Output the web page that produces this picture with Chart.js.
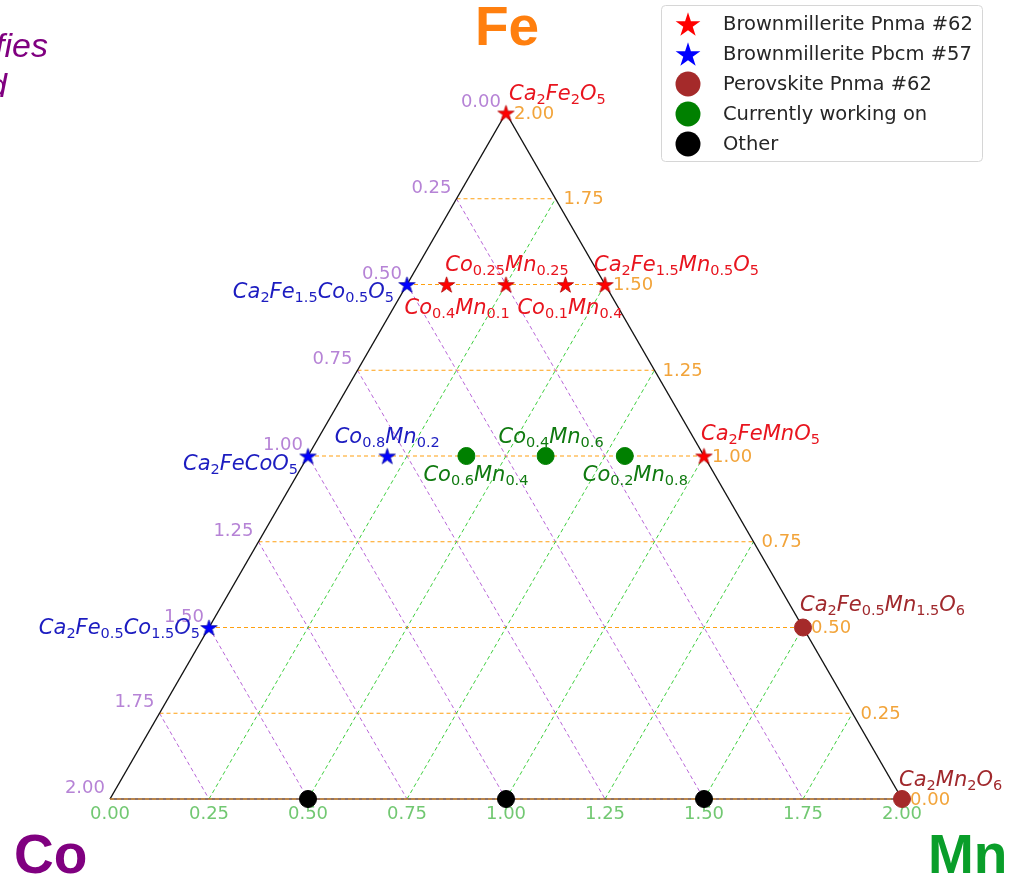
<!DOCTYPE html>
<html>
<head>
<meta charset="utf-8">
<script src="https://cdn.jsdelivr.net/npm/chart.js@4.4.1/dist/chart.umd.min.js"></script>
<style>
  html, body { margin: 0; padding: 0; background: #ffffff; overflow: hidden; }
  canvas { display: block; }
</style>
</head>
<body>
<canvas id="chart" width="1009" height="875"></canvas>
<script>
// Ternary map of Ca2(Fe,Co,Mn)2O5/O6 compositions; the B-site total is 2.
// Each point is given by its Fe and Mn content, Co = 2 - Fe - Mn.

const tickValues = [0, 0.25, 0.5, 0.75, 1, 1.25, 1.5, 1.75, 2];
const tickLabels = ['0.00', '0.25', '0.50', '0.75', '1.00', '1.25', '1.50', '1.75', '2.00'];

const seriesNames = [
  'Brownmillerite Pnma #62',
  'Brownmillerite Pbcm #57',
  'Perovskite Pnma #62',
  'Currently working on',
  'Other'
];

// Brownmillerite Pnma #62
const pnmaFe = [2, 1.5, 1.5, 1.5, 1.5, 1];
const pnmaMn = [0, 0.1, 0.25, 0.4, 0.5, 1];
const pnmaLabels = ['Ca2Fe2O5', 'Co0.4Mn0.1', 'Co0.25Mn0.25', 'Co0.1Mn0.4', 'Ca2Fe1.5Mn0.5O5', 'Ca2FeMnO5'];

// Brownmillerite Pbcm #57
const pbcmFe = [1.5, 1, 1, 0.5];
const pbcmMn = [0, 0, 0.2, 0];
const pbcmLabels = ['Ca2Fe1.5Co0.5O5', 'Ca2FeCoO5', 'Co0.8Mn0.2', 'Ca2Fe0.5Co1.5O5'];

// Perovskite Pnma #62
const perovFe = [0.5, 0];
const perovMn = [1.5, 2];
const perovLabels = ['Ca2Fe0.5Mn1.5O6', 'Ca2Mn2O6'];

// Currently working on
const workFe = [1, 1, 1];
const workMn = [0.4, 0.6, 0.8];
const workLabels = ['Co0.6Mn0.4', 'Co0.4Mn0.6', 'Co0.2Mn0.8'];

// Other
const otherFe = [0, 0, 0];
const otherMn = [0.5, 1, 1.5];

// label placement relative to the marker (pixels) and alignment
const labelPlacement = {
  'Ca2Fe2O5':        { dx: 3,   dy: -13, align: 'left' },
  'Co0.4Mn0.1':      { dx: -42, dy: 29,  align: 'left' },
  'Co0.25Mn0.25':    { dx: 1,   dy: -14, align: 'center' },
  'Co0.1Mn0.4':      { dx: -48, dy: 29,  align: 'left' },
  'Ca2Fe1.5Mn0.5O5': { dx: -11, dy: -14, align: 'left' },
  'Ca2FeMnO5':       { dx: -3,  dy: -16, align: 'left' },
  'Ca2Fe1.5Co0.5O5': { dx: -13, dy: 13,  align: 'right' },
  'Ca2FeCoO5':       { dx: -10, dy: 14,  align: 'right' },
  'Co0.8Mn0.2':      { dx: 0,   dy: -13, align: 'center' },
  'Ca2Fe0.5Co1.5O5': { dx: -9,  dy: 6,   align: 'right' },
  'Co0.6Mn0.4':      { dx: -43, dy: 25,  align: 'left' },
  'Co0.4Mn0.6':      { dx: -47, dy: -13, align: 'left' },
  'Co0.2Mn0.8':      { dx: -42, dy: 25,  align: 'left' },
  'Ca2Fe0.5Mn1.5O6': { dx: -3,  dy: -17, align: 'left' },
  'Ca2Mn2O6':        { dx: -3,  dy: -13, align: 'left' }
};

const SANS = '"DejaVu Sans", "Noto Sans", sans-serif';

// Fe along the vertical, Mn to the right: equilateral projection
function toXY(fe, mn) {
  return fe.map((f, i) => ({ x: mn[i] + f / 2, y: f }));
}

function starPath(g, cx, cy, R) {
  const r = R * 0.381966;
  g.beginPath();
  for (let k = 0; k < 10; k++) {
    const a = -Math.PI / 2 + k * Math.PI / 5;
    const rr = k % 2 === 0 ? R : r;
    const px = cx + rr * Math.cos(a), py = cy + rr * Math.sin(a);
    if (k === 0) g.moveTo(px, py); else g.lineTo(px, py);
  }
  g.closePath();
}

function starImage(R, fill, stroke) {
  const s = Math.ceil(R * 2 + 4);
  const c = document.createElement('canvas');
  c.width = s; c.height = s;
  const g = c.getContext('2d');
  starPath(g, s / 2, s / 2 + R * 0.1, R);
  g.fillStyle = fill;
  g.fill();
  g.lineWidth = 0.8;
  g.strokeStyle = stroke;
  g.stroke();
  return c;
}

const palette = {
  pnma: '#ff0000', pnmaText: '#e8141e',
  pbcm: '#0000ff', pbcmText: '#1c1cc0',
  perov: '#a52a2a', perovText: '#a0282c',
  work: '#008000', workText: '#107a10',
  other: '#000000'
};

const datasets = [
  { label: seriesNames[0], data: toXY(pnmaFe, pnmaMn), labels: pnmaLabels, textColor: palette.pnmaText,
    marker: 'star', color: palette.pnma,
    pointStyle: starImage(8.5, palette.pnma, '#b00000'), pointRadius: 9 },
  { label: seriesNames[1], data: toXY(pbcmFe, pbcmMn), labels: pbcmLabels, textColor: palette.pbcmText,
    marker: 'star', color: palette.pbcm,
    pointStyle: starImage(8.5, palette.pbcm, '#0000a0'), pointRadius: 9 },
  { label: seriesNames[2], data: toXY(perovFe, perovMn), labels: perovLabels, textColor: palette.perovText,
    marker: 'circle', color: palette.perov,
    pointStyle: 'circle', pointRadius: 8.5, backgroundColor: palette.perov, borderColor: palette.perov, borderWidth: 1 },
  { label: seriesNames[3], data: toXY(workFe, workMn), labels: workLabels, textColor: palette.workText,
    marker: 'circle', color: palette.work,
    pointStyle: 'circle', pointRadius: 8.5, backgroundColor: palette.work, borderColor: palette.work, borderWidth: 1 },
  { label: seriesNames[4], data: toXY(otherFe, otherMn), labels: [], textColor: '#000',
    marker: 'circle', color: palette.other,
    pointStyle: 'circle', pointRadius: 8.5, backgroundColor: palette.other, borderColor: palette.other, borderWidth: 1 }
].map(d => Object.assign({ showLine: false, clip: false, pointHoverRadius: d.pointRadius }, d));

// chemical formula with numeric subscripts, letters in italic
function drawFormula(g, str, x, y, align, color) {
  const parts = str.match(/[A-Za-z]+|[0-9.]+/g);
  const mainFont = 'italic 21px ' + SANS;
  const subFont = '14.5px ' + SANS;
  const items = parts.map(p => {
    const sub = /^[0-9.]/.test(p);
    g.font = sub ? subFont : mainFont;
    return { text: p, sub, w: g.measureText(p).width };
  });
  const total = items.reduce((s, it) => s + it.w, 0);
  let cx = align === 'right' ? x - total : align === 'center' ? x - total / 2 : x;
  g.fillStyle = color;
  g.textAlign = 'left';
  g.textBaseline = 'alphabetic';
  for (const it of items) {
    g.font = it.sub ? subFont : mainFont;
    g.fillText(it.text, cx, it.sub ? y + 4 : y);
    cx += it.w;
  }
}

const ternaryPlugin = {
  id: 'ternary',
  beforeDatasetsDraw(chart) {
    const g = chart.ctx;
    const xs = chart.scales.x, ys = chart.scales.y;
    const P = (fe, mn) => [xs.getPixelForValue(mn + fe / 2), ys.getPixelForValue(fe)];
    const line = (a, b, color, dash, w) => {
      g.save();
      g.beginPath();
      g.setLineDash(dash);
      g.strokeStyle = color;
      g.lineWidth = w;
      g.moveTo(a[0], a[1]);
      g.lineTo(b[0], b[1]);
      g.stroke();
      g.restore();
    };
    const inner = tickValues.filter(v => v > 0 && v < 2);
    // Fe = const (horizontal)
    inner.forEach(f => line(P(f, 0), P(f, 2 - f), '#ffa010', [4, 3], 1.1));
    // Co = const (parallel to Fe–Mn edge)
    inner.forEach(c => line(P(2 - c, 0), P(0, 2 - c), '#b866d8', [4, 3], 1));
    // Mn = const (parallel to Fe–Co edge)
    inner.forEach(m => line(P(0, m), P(2 - m, m), '#3fcf3f', [4, 3], 1));

    // triangle edges
    line(P(2, 0), P(0, 0), '#111111', [], 1.4);
    line(P(2, 0), P(0, 2), '#111111', [], 1.4);
    line(P(0, 0), P(0, 2), '#6a4536', [], 1.6);
    line(P(0, 0), P(0, 2), '#ffa620', [4, 3], 0.8);

    // axis tick labels
    g.save();
    g.font = '18px ' + SANS;
    tickValues.forEach((v, i) => {
      // Co along the left edge
      let p = P(2 - v, 0);
      g.fillStyle = '#b683d6';
      g.textAlign = 'right';
      g.textBaseline = 'alphabetic';
      g.fillText(tickLabels[i], p[0] - 5, p[1] - 6);
      // Fe along the right edge
      p = P(v, 2 - v);
      g.fillStyle = '#f2a43a';
      g.textAlign = 'left';
      g.textBaseline = 'middle';
      g.fillText(tickLabels[i], p[0] + 8, p[1] + 1);
      // Mn along the bottom
      p = P(0, v);
      g.fillStyle = '#72c872';
      g.textAlign = 'center';
      g.textBaseline = 'top';
      g.fillText(tickLabels[i], p[0], p[1] + 6);
    });
    g.restore();
  },
  afterDatasetsDraw(chart) {
    const g = chart.ctx;
    const xs = chart.scales.x, ys = chart.scales.y;
    g.save();
    // composition labels
    chart.data.datasets.forEach(ds => {
      ds.data.forEach((pt, i) => {
        const name = ds.labels[i];
        if (!name) return;
        const pl = labelPlacement[name];
        const px = xs.getPixelForValue(pt.x), py = ys.getPixelForValue(pt.y);
        drawFormula(g, name, px + pl.dx, py + pl.dy, pl.align, ds.textColor);
      });
    });

    // legend
    const lx = 661.5, ly = 5.5, lw = 321, lh = 156;
    g.beginPath();
    g.roundRect(lx, ly, lw, lh, 4);
    g.fillStyle = 'rgba(255,255,255,0.9)';
    g.fill();
    g.strokeStyle = '#d6d6d6';
    g.lineWidth = 1;
    g.stroke();
    chart.data.datasets.forEach((ds, i) => {
      const cy = 24 + i * 30;
      const cx = 688;
      if (ds.marker === 'star') {
        starPath(g, cx, cy + 1.2, 13);
        g.fillStyle = ds.color;
        g.fill();
      } else {
        g.beginPath();
        g.arc(cx, cy, 12.5, 0, Math.PI * 2);
        g.fillStyle = ds.color;
        g.fill();
      }
      g.font = '19.5px ' + SANS;
      g.fillStyle = '#262626';
      g.textAlign = 'left';
      g.textBaseline = 'middle';
      g.fillText(ds.label, 723, cy + 1);
    });

    // corner element names
    g.font = 'bold 55px "Liberation Sans", Arial, sans-serif';
    g.textBaseline = 'alphabetic';
    g.textAlign = 'left';
    g.fillStyle = '#ff7f0e';
    g.fillText('Fe', 475, 45);
    g.fillStyle = '#800080';
    g.fillText('Co', 14, 873);
    g.fillStyle = '#0a9e2a';
    g.fillText('Mn', 928, 873);

    // note text running off the left edge
    g.font = 'italic 34px "Liberation Sans", Arial, sans-serif';
    g.fillStyle = '#800080';
    g.textAlign = 'right';
    g.fillText('fies', 48, 57);
    g.fillText('d', 7, 97);
    g.restore();
  }
};

new Chart(document.getElementById('chart').getContext('2d'), {
  type: 'scatter',
  data: { datasets },
  options: {
    responsive: false,
    animation: false,
    devicePixelRatio: 1,
    events: [],
    layout: { padding: { left: 110, right: 107, top: 113, bottom: 76 } },
    scales: {
      x: { type: 'linear', min: 0, max: 2, display: false },
      y: { type: 'linear', min: 0, max: 2, display: false }
    },
    plugins: {
      legend: { display: false },
      tooltip: { enabled: false }
    }
  },
  plugins: [ternaryPlugin]
});
</script>
</body>
</html>
